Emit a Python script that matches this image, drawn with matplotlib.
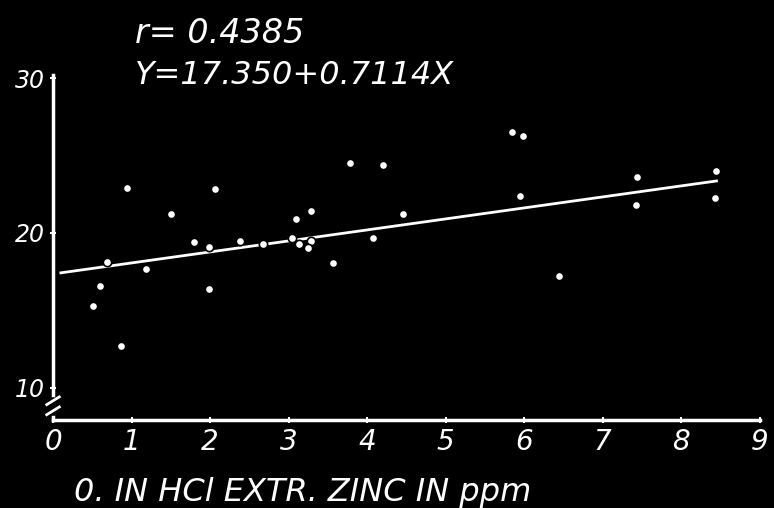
import numpy as np
import matplotlib.pyplot as plt

# zinc (ppm) and yield values
zinc = [0.94, 2.06, 1.50, 3.78, 4.20, 3.09, 3.29, 1.79, 1.99, 2.38, 2.68, 3.05,
        3.13, 3.29, 3.25, 4.08, 3.57, 0.69, 1.18, 0.60, 0.51, 0.86, 1.99,
        5.85, 5.99, 5.95, 7.44, 8.45, 7.43, 8.43, 6.44, 4.46]
yld = [22.9, 22.86, 21.2, 24.5, 24.4, 20.9, 21.4, 19.4, 19.1, 19.5, 19.3, 19.66,
       19.27, 19.48, 19.0, 19.7, 18.05, 18.1, 17.7, 16.6, 15.25, 12.7, 16.4,
       26.5, 26.3, 22.4, 23.6, 24.0, 21.8, 22.26, 17.2, 21.2]
intercept = 17.350
slope = 0.7114
r_value = 0.4385
xticks = [0, 1, 2, 3, 4, 5, 6, 7, 8, 9]
yticks = [10, 20, 30]

fig = plt.figure(figsize=(7.74, 5.08), dpi=100, facecolor='black')
ax = fig.add_axes([0.0685, 0.173, 0.913, 0.679], facecolor='black')

xl = np.array([0.1, 8.45])
ax.plot(xl, intercept + slope * xl, color='white', lw=2, zorder=2)
ax.scatter(zinc, yld, s=36, color='white', edgecolors='black', linewidths=1.2, zorder=3)

ax.set_xlim(0, 9)
ax.set_ylim(7.9, 30.2)
ax.set_xticks(xticks)
ax.set_yticks(yticks)
for s in ['top', 'right']:
    ax.spines[s].set_visible(False)
for s in ['left', 'bottom']:
    ax.spines[s].set_color('white')
    ax.spines[s].set_linewidth(2.5)
ax.tick_params(colors='white', labelsize=20, width=1.5, length=5, direction='inout')
ax.tick_params(axis='y', labelsize=17)
for lab in ax.get_xticklabels() + ax.get_yticklabels():
    lab.set_style('italic')

# axis break between 10 and the x axis
ax.plot([0, 0], [8.35, 9.2], color='black', lw=4, clip_on=False, zorder=5)
kw = dict(color='white', lw=2, clip_on=False, zorder=6)
ax.plot([-0.08, 0.08], [8.9, 9.4], **kw)
ax.plot([-0.08, 0.08], [8.25, 8.75], **kw)

fig.text(0.174, 0.935, 'r= %.4f' % r_value, color='white', fontsize=24, style='italic', va='center')
fig.text(0.174, 0.852, 'Y=%.3f+%.4fX' % (intercept, slope), color='white', fontsize=23,
         style='italic', va='center')
ax.set_xlabel('0. IN HCl EXTR. ZINC IN ppm', color='white', fontsize=23, style='italic')
ax.xaxis.set_label_coords(0.03, -0.165)
ax.xaxis.label.set_ha('left')

plt.savefig('out.png', facecolor='black')
